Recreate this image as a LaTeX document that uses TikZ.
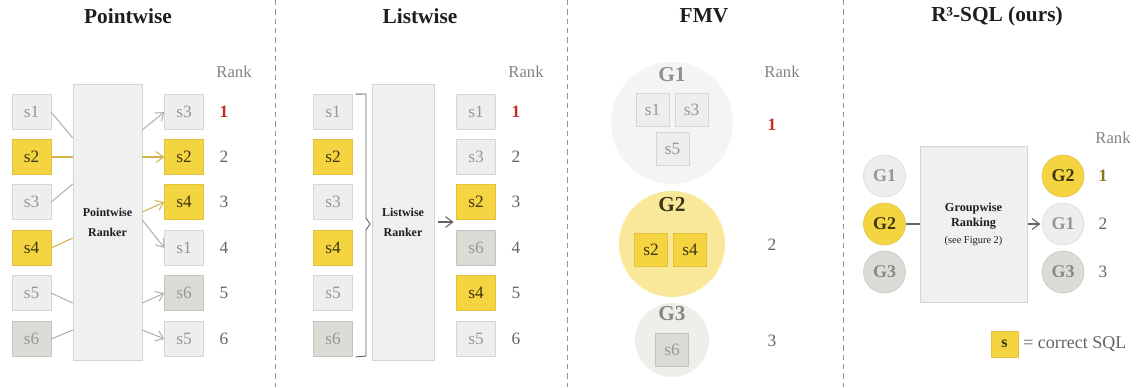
\documentclass[tikz,border=0pt]{standalone}
\usepackage{fontspec}
\setmainfont{Liberation Serif}
\usepackage{tikz}
\usetikzlibrary{arrows.meta, positioning, calc}
\definecolor{titletext}{RGB}{30, 30, 30}
\definecolor{cardbg}{RGB}{238, 238, 236}
\definecolor{cardline}{RGB}{214, 214, 210}
\definecolor{cardtext}{RGB}{150, 150, 148}
\definecolor{goldbg}{RGB}{244, 212, 64}
\definecolor{goldline}{RGB}{226, 194, 58}
\definecolor{goldtext}{RGB}{62, 54, 18}
\definecolor{darkbg}{RGB}{220, 220, 214}
\definecolor{darkline}{RGB}{196, 196, 190}
\definecolor{rankerbg}{RGB}{240, 240, 240}
\definecolor{rankerline}{RGB}{212, 212, 212}
\definecolor{ranktext}{RGB}{100, 100, 100}
\definecolor{rankred}{RGB}{190, 48, 36}
\definecolor{rankgold}{RGB}{138, 120, 28}
\definecolor{edgegray}{RGB}{178, 178, 176}
\definecolor{edgegold}{RGB}{212, 180, 74}
\definecolor{groupone}{RGB}{244, 244, 242}
\definecolor{grouptwo}{RGB}{249, 232, 154}
\definecolor{groupthree}{RGB}{238, 238, 234}

\begin{document}
\begin{tikzpicture}[
    x=0.75pt, y=-0.75pt,
    cand/.style={rectangle, draw=cardline, fill=cardbg, text=cardtext, inner sep=0pt, minimum width=29pt, minimum height=26.5pt, font=\fontsize{13}{15}\selectfont},
    goldcand/.style={cand, draw=goldline, fill=goldbg, text=goldtext},
    darkcand/.style={cand, draw=darkline, fill=darkbg},
    smallcand/.style={minimum width=24.75pt, minimum height=24.75pt},
    ranker/.style={rectangle, draw=rankerline, fill=rankerbg, minimum height=207pt, align=center, text=titletext, font=\fontsize{9}{15}\selectfont\bfseries},
    group/.style={circle, inner sep=0pt, minimum size=31.5pt, font=\fontsize{13.5}{15}\selectfont\bfseries},
    grouplabel/.style={font=\fontsize{16}{18}\selectfont\bfseries},
    ranknum/.style={text=ranktext, font=\fontsize{13}{15}\selectfont},
    rankhead/.style={text=ranktext!80, font=\fontsize{12.5}{15}\selectfont},
    title/.style={text=titletext, font=\fontsize{16}{19}\selectfont\bfseries},
    grayedge/.style={draw=edgegray, line width=0.8pt},
    goldedge/.style={draw=edgegold, line width=0.8pt},
    tip/.style={-{Straight Barb[length=5.5pt, width=8pt]}},
    arrow/.style={-{Straight Barb[length=5.5pt, width=8pt]}, draw=ranktext, line width=0.8pt},
    divider/.style={draw=ranktext!70, line width=0.6pt, dash pattern=on 4pt off 3pt}
]
    \useasboundingbox (0,0) rectangle (1138,387);

    % Panel dividers and titles
    \draw[divider] (275,0) -- (275,387);
    \draw[divider] (567,0) -- (567,387);
    \draw[divider] (843,0) -- (843,387);
    \node[title] (t1) at (128,16) {Pointwise};
    \node[title] (t2) at (420,16) {Listwise};
    \node[title] (t3) at (704,16) {FMV};
    \node[title] (t4) at (997,16) {R³-SQL (ours)};

    % Pointwise
    \node[cand]     (pwin1) at (31.5,112) {s1};
    \node[goldcand] (pwin2) at (31.5,157) {s2};
    \node[cand]     (pwin3) at (31.5,202) {s3};
    \node[goldcand] (pwin4) at (31.5,248) {s4};
    \node[cand]     (pwin5) at (31.5,293) {s5};
    \node[darkcand] (pwin6) at (31.5,339) {s6};
    \node[ranker, minimum width=51.75pt] (pwrank) at (107.5,222) {Pointwise\\Ranker};
    \node[cand]     (pwout1) at (184,112) {s3};
    \node[goldcand] (pwout2) at (184,157) {s2};
    \node[goldcand] (pwout3) at (184,202) {s4};
    \node[cand]     (pwout4) at (184,248) {s1};
    \node[darkcand] (pwout5) at (184,293) {s6};
    \node[cand]     (pwout6) at (184,339) {s5};
    \node[rankhead] (pwhead) at (234,72) {Rank};
    \node[ranknum, text=rankred, font=\fontsize{13}{15}\selectfont\bfseries] (pwr1) at (224,112) {1};
    \node[ranknum] (pwr2) at (224,157) {2};
    \node[ranknum] (pwr3) at (224,202) {3};
    \node[ranknum] (pwr4) at (224,248) {4};
    \node[ranknum] (pwr5) at (224,293) {5};
    \node[ranknum] (pwr6) at (224,339) {6};

    \draw[grayedge] (pwin1.east) -- (pwrank.west |- 0,138);
    \draw[goldedge] (pwin2.east) -- (pwrank.west |- 0,157);
    \draw[grayedge] (pwin3.east) -- (pwrank.west |- 0,184);
    \draw[goldedge] (pwin4.east) -- (pwrank.west |- 0,238);
    \draw[grayedge] (pwin5.east) -- (pwrank.west |- 0,303);
    \draw[grayedge] (pwin6.east) -- (pwrank.west |- 0,330);
    \draw[grayedge, tip] (pwrank.east |- 0,130) -- (pwout1.west);
    \draw[goldedge, tip] (pwrank.east |- 0,157) -- (pwout2.west);
    \draw[goldedge, tip] (pwrank.east |- 0,212) -- (pwout3.west);
    \draw[grayedge, tip] (pwrank.east |- 0,220) -- (pwout4.west);
    \draw[grayedge, tip] (pwrank.east |- 0,303) -- (pwout5.west);
    \draw[grayedge, tip] (pwrank.east |- 0,330) -- (pwout6.west);

    % Listwise
    \node[cand]     (lwin1) at (333,112) {s1};
    \node[goldcand] (lwin2) at (333,157) {s2};
    \node[cand]     (lwin3) at (333,202) {s3};
    \node[goldcand] (lwin4) at (333,248) {s4};
    \node[cand]     (lwin5) at (333,293) {s5};
    \node[darkcand] (lwin6) at (333,339) {s6};
    \node[ranker, minimum width=46.5pt] (lwrank) at (403,222) {Listwise\\Ranker};
    \node[cand]     (lwout1) at (476,112) {s1};
    \node[cand]     (lwout2) at (476,157) {s3};
    \node[goldcand] (lwout3) at (476,202) {s2};
    \node[darkcand] (lwout4) at (476,248) {s6};
    \node[goldcand] (lwout5) at (476,293) {s4};
    \node[cand]     (lwout6) at (476,339) {s5};
    \node[rankhead] (lwhead) at (526,72) {Rank};
    \node[ranknum, text=rankred, font=\fontsize{13}{15}\selectfont\bfseries] (lwr1) at (516,112) {1};
    \node[ranknum] (lwr2) at (516,157) {2};
    \node[ranknum] (lwr3) at (516,202) {3};
    \node[ranknum] (lwr4) at (516,248) {4};
    \node[ranknum] (lwr5) at (516,293) {5};
    \node[ranknum] (lwr6) at (516,339) {6};

    \draw[draw=ranktext, line width=0.7pt] ($(lwin1.north east)+(3,0)$) -- (366,94) -- (366,218) -- (370,224) -- (366,230) -- (366,356) -- ($(lwin6.south east)+(3,0)$);
    \draw[arrow, shorten <=2.5pt, shorten >=2pt] (lwrank.east) -- (lwout3.west |- lwrank.east);

    % FMV
    \node[circle, fill=groupone, minimum size=91.5pt] (fg1) at (672,123) {};
    \node[circle, fill=grouptwo, minimum size=79.5pt] (fg2) at (672,244) {};
    \node[circle, fill=groupthree, minimum size=55.5pt] (fg3) at (672,340) {};
    \node[grouplabel, text=cardtext!95!black] (fl1) at (672,75) {G1};
    \node[grouplabel, text=goldtext] (fl2) at (672,205) {G2};
    \node[grouplabel, text=cardtext!90!black] (fl3) at (672,314) {G3};
    \node[cand, smallcand] (fs1) at (652.5,110) {s1};
    \node[cand, smallcand] (fs3) at (691.5,110) {s3};
    \node[cand, smallcand] (fs5) at (672.5,149) {s5};
    \node[goldcand, smallcand] (fs2) at (651,249.5) {s2};
    \node[goldcand, smallcand] (fs4) at (690,249.5) {s4};
    \node[darkcand, smallcand] (fs6) at (672,349.5) {s6};
    \node[rankhead] (fmhead) at (782,72) {Rank};
    \node[ranknum, text=rankred, font=\fontsize{13}{15}\selectfont\bfseries] (fmr1) at (772,125) {1};
    \node[ranknum] (fmr2) at (772,245) {2};
    \node[ranknum] (fmr3) at (772,341) {3};

    % R3-SQL
    \node[group, draw=cardline, fill=cardbg, text=cardtext] (gin1) at (884.5,176) {G1};
    \node[group, draw=goldline, fill=goldbg, text=goldtext] (gin2) at (884.5,224) {G2};
    \node[group, draw=darkline, fill=darkbg, text=cardtext!90!black] (gin3) at (884.5,272) {G3};
    \node[ranker, minimum width=80pt, minimum height=117pt, font=\fontsize{9.2}{11.5}\selectfont] (grprank) at (973.5,224)
        {\textbf{Groupwise}\\\textbf{Ranking}\\[1pt]{\fontsize{7.8}{9}\selectfont (see Figure 2)}};
    \node[group, draw=goldline, fill=goldbg, text=goldtext] (gout1) at (1063,176) {G2};
    \node[group, draw=cardline, fill=cardbg, text=cardtext] (gout2) at (1063,224) {G1};
    \node[group, draw=darkline, fill=darkbg, text=cardtext!90!black] (gout3) at (1063,272) {G3};
    \node[rankhead] (grhead) at (1113,138) {Rank};
    \node[ranknum, text=rankgold, font=\fontsize{13}{15}\selectfont\bfseries] (grr1) at (1103,176) {1};
    \node[ranknum] (grr2) at (1103,224) {2};
    \node[ranknum] (grr3) at (1103,272) {3};

    \draw[draw=ranktext, line width=0.8pt] (gin2.east) -- (grprank.west);
    \draw[arrow, shorten <=1pt, shorten >=1pt] (grprank.east) -- (gout2.west);

    % Legend
    \node[goldcand, minimum width=20pt, minimum height=19.5pt, font=\fontsize{12}{14}\selectfont\bfseries] (legbox) at (1004.5,344) {s};
    \node[ranknum, anchor=west, inner sep=0pt, font=\fontsize{13.5}{15}\selectfont] (legtext) at (1023,344) {= correct SQL};
\end{tikzpicture}
\end{document}
